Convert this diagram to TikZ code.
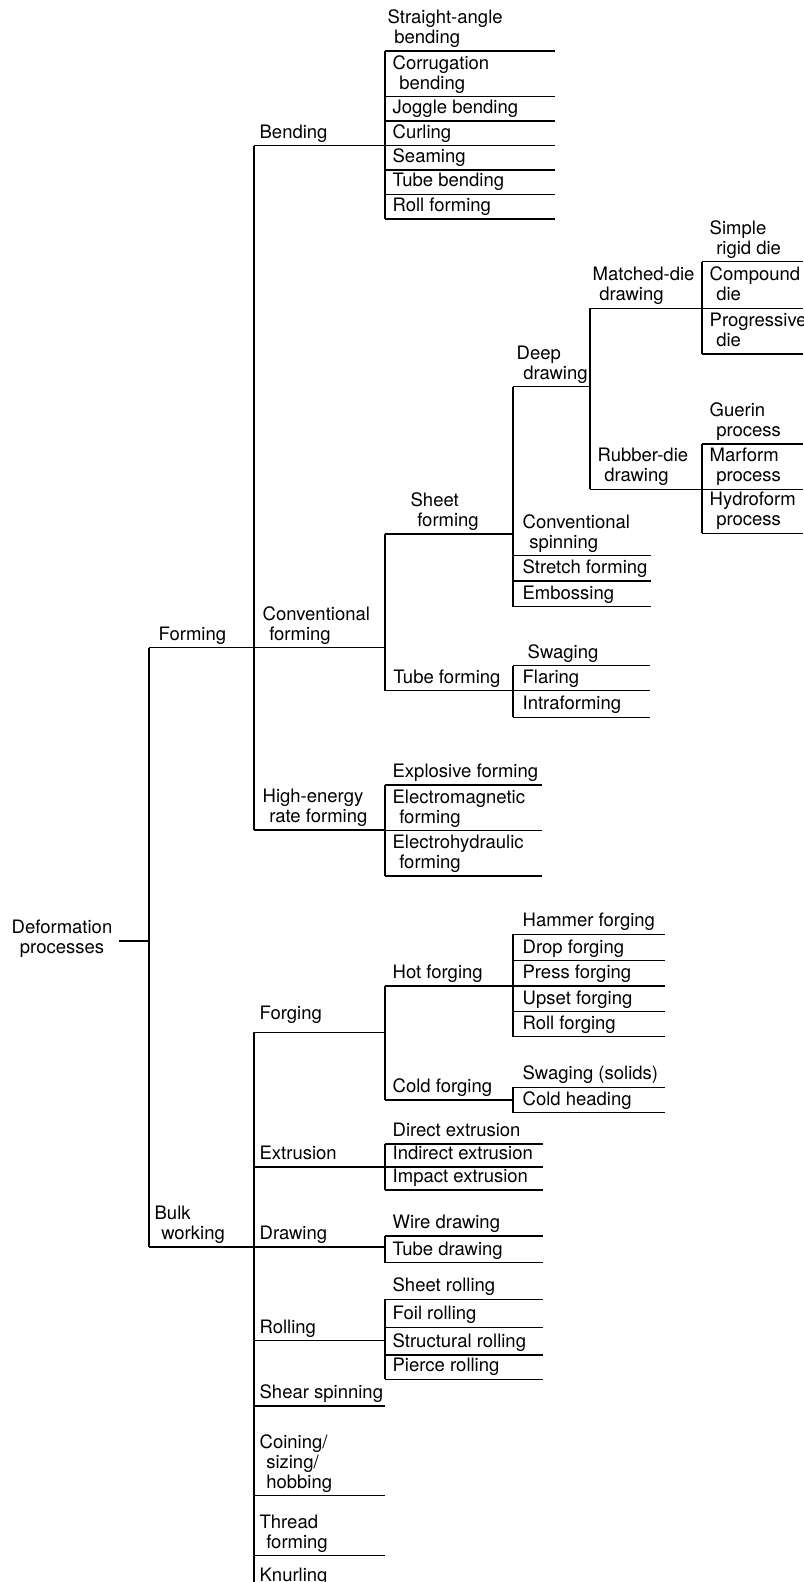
\documentclass[tikz,border=0pt]{standalone}
\usepackage{fontspec}
\setmainfont{TeX Gyre Heros}
\usepackage{tikz}
\usetikzlibrary{positioning}
\newcommand{\lblfont}{\fontsize{9.25pt}{10pt}\selectfont}
\newcommand{\ind}{\hspace*{3.3pt}}

\begin{document}
\begin{tikzpicture}[x=0.5pt, y=-0.5pt, line width=0.65pt,
    lbl/.style={anchor=base west, inner sep=0pt, align=left, font=\lblfont},
    rootlbl/.style={anchor=base, inner sep=0pt, align=center, font=\lblfont}]
  \useasboundingbox (0,0) rectangle (803,1582);

  % junctions of the tree
  \coordinate (a0) at (119,941);   \coordinate (a1) at (149,941);
  \coordinate (fo0) at (149,647.7); \coordinate (fo1) at (254,647.7);
  \coordinate (bw0) at (149,1247);  \coordinate (bw1) at (254,1247);
  \coordinate (be0) at (254,145.7); \coordinate (be1) at (385,145.7);
  \coordinate (cf1) at (385,647.7);
  \coordinate (he0) at (254,830);   \coordinate (he1) at (385,830);
  \coordinate (sf0) at (385,534);   \coordinate (sf1) at (513,534);
  \coordinate (tf0) at (385,690.7); \coordinate (tf1) at (513,690.7);
  \coordinate (dd0) at (513,386.7); \coordinate (dd1) at (590,386.7);
  \coordinate (sfend) at (513,606.7);
  \coordinate (md0) at (590,308.3); \coordinate (md1) at (702,308.3);
  \coordinate (rd0) at (590,489.3); \coordinate (rd1) at (702,489.3);
  \coordinate (fg0) at (254,1032.3); \coordinate (fg1) at (385,1032.3);
  \coordinate (hf0) at (385,986);   \coordinate (hf1) at (513,986);
  \coordinate (cg0) at (385,1100);  \coordinate (cg1) at (513,1100);
  \coordinate (ex0) at (254,1167);  \coordinate (ex1) at (385,1167);
  \coordinate (dr1) at (385,1247);
  \coordinate (ro0) at (254,1340.7); \coordinate (ro1) at (385,1340.7);
  \coordinate (ss0) at (254,1406);  \coordinate (ss1) at (385,1406);
  \coordinate (co0) at (254,1495.7); \coordinate (co1) at (385,1495.7);
  \coordinate (th0) at (254,1555.7); \coordinate (th1) at (385,1555.7);
  \coordinate (bwend) at (254,1582);

  % trunks and branches
  \draw (a0) -- (a1);
  \draw (fo0) -- (bw0);
  \draw (fo0) -- (fo1) -- (cf1);
  \draw (bw0) -- (bw1) -- (dr1);
  \draw (be0) -- (he0);
  \draw (be0) -- (be1);
  \draw (he0) -- (he1);
  \draw (sf0) -- (tf0);
  \draw (sf0) -- (sf1);
  \draw (tf0) -- (tf1);
  \draw (dd0) -- (sfend);
  \draw (dd0) -- (dd1);
  \draw (md0) -- (rd0);
  \draw (md0) -- (md1);
  \draw (rd0) -- (rd1);
  \draw (fg0) -- (bwend);
  \draw (fg0) -- (fg1);
  \draw (ex0) -- (ex1);
  \draw (ro0) -- (ro1);
  \draw (ss0) -- (ss1);
  \draw (co0) -- (co1);
  \draw (th0) -- (th1);
  \draw (hf0) -- (cg0);
  \draw (hf0) -- (hf1);
  \draw (cg0) -- (cg1);

  % leaf lists
  \draw (385,51) -- (385,219);
  \foreach \y in {51,96.7,121,145.7,170,194.3,219} \draw (385,\y) -- (555,\y);
  \draw (702,261.7) -- (702,354);
  \foreach \y in {261.7,308.3,354} \draw (702,\y) -- (803,\y);
  \draw (702,444) -- (702,533.3);
  \foreach \y in {444,489.3,533.3} \draw (702,\y) -- (803,\y);
  \foreach \y in {555.7,581,606.7} \draw (513,\y) -- (651,\y);
  \draw (513,665.7) -- (513,717.3);
  \foreach \y in {665.7,690.7,717.3} \draw (513,\y) -- (650,\y);
  \draw (385,785) -- (385,876);
  \foreach \y in {785,830.7,876} \draw (385,\y) -- (542,\y);
  \draw (513,934.3) -- (513,1036.7);
  \foreach \y in {934.3,960.7,986,1011.7,1036.7} \draw (513,\y) -- (665,\y);
  \draw (513,1087.3) -- (513,1112.7);
  \foreach \y in {1087.3,1112.7} \draw (513,\y) -- (665,\y);
  \draw (385,1144) -- (385,1190);
  \foreach \y in {1144,1167,1190} \draw (385,\y) -- (543,\y);
  \draw (385,1236) -- (385,1262.7);
  \foreach \y in {1236,1262.7} \draw (385,\y) -- (543,\y);
  \draw (385,1299.3) -- (385,1379.3);
  \foreach \y in {1299.3,1327.3,1355,1379.3} \draw (385,\y) -- (543,\y);

  % labels (y = baseline of the last line)
  \node[rootlbl] (deform) at (62,953) {Deformation\\processes};
  \node[lbl] (forming) at (158,640.2) {Forming};
  \node[lbl] (bulk) at (154,1239.5) {Bulk\\\ind working};

  \node[lbl] (bending) at (259,138.2) {Bending};
  \node[lbl] (convform) at (262,640.2) {Conventional\\\ind forming};
  \node[lbl] (highenergy) at (262,822.5) {High-energy\\\ind rate forming};

  \node[lbl] (straight) at (387,43.5) {Straight-angle\\\ind bending};
  \node[lbl] (corrug) at (392,89.2) {Corrugation\\\ind bending};
  \node[lbl] (joggle) at (392,113.5) {Joggle bending};
  \node[lbl] (curling) at (392,138.2) {Curling};
  \node[lbl] (seaming) at (392,162.5) {Seaming};
  \node[lbl] (tubebend) at (392,186.8) {Tube bending};
  \node[lbl] (rollform) at (392,211.5) {Roll forming};

  \node[lbl] (sheetform) at (410,526.5) {Sheet\\\ind forming};
  \node[lbl] (tubeform) at (392.7,683.2) {Tube forming};
  \node[lbl] (deepdraw) at (516,379.2) {Deep\\\ind drawing};
  \node[lbl] (matched) at (592,300.8) {Matched-die\\\ind drawing};
  \node[lbl] (rubber) at (597,481.8) {Rubber-die\\\ind drawing};

  \node[lbl] (simple) at (709,254.2) {Simple\\\ind rigid die};
  \node[lbl] (compound) at (709,300.8) {Compound\\\ind die};
  \node[lbl] (progressive) at (709,346.5) {Progressive\\\ind die};
  \node[lbl] (guerin) at (709,436.5) {Guerin\\\ind process};
  \node[lbl] (marform) at (709,481.8) {Marform\\\ind process};
  \node[lbl] (hydroform) at (709,525.8) {Hydroform\\\ind process};

  \node[lbl] (convspin) at (522,548.2) {Conventional\\\ind spinning};
  \node[lbl] (stretch) at (522,573.5) {Stretch forming};
  \node[lbl] (emboss) at (522,599.2) {Embossing};
  \node[lbl] (swaging) at (527,658.2) {Swaging};
  \node[lbl] (flaring) at (522,683.2) {Flaring};
  \node[lbl] (intra) at (522,709.8) {Intraforming};

  \node[lbl] (explosive) at (392,777.5) {Explosive forming};
  \node[lbl] (electromag) at (392,823.2) {Electromagnetic\\\ind forming};
  \node[lbl] (electrohyd) at (392,868.5) {Electrohydraulic\\\ind forming};

  \node[lbl] (forging) at (259,1019.3) {Forging};
  \node[lbl] (extrusion) at (259,1159.5) {Extrusion};
  \node[lbl] (drawing) at (259,1239.5) {Drawing};
  \node[lbl] (rolling) at (259,1333.2) {Rolling};
  \node[lbl] (shear) at (259,1398.5) {Shear spinning};
  \node[lbl] (coining) at (259,1488.2) {Coining/\\\ind sizing/\\\ind hobbing};
  \node[lbl] (thread) at (259,1548.2) {Thread\\\ind forming};
  \node[lbl] (knurling) at (259,1581) {Knurling};

  \node[lbl] (hotforg) at (392,978.5) {Hot forging};
  \node[lbl] (coldforg) at (392,1092.5) {Cold forging};
  \node[lbl] (hammer) at (522,926.8) {Hammer forging};
  \node[lbl] (drop) at (522,953.2) {Drop forging};
  \node[lbl] (press) at (522,978.5) {Press forging};
  \node[lbl] (upset) at (522,1004.2) {Upset forging};
  \node[lbl] (rollforg) at (522,1029.2) {Roll forging};
  \node[lbl] (swagsolid) at (522,1079.8) {Swaging (solids)};
  \node[lbl] (coldhead) at (522,1105.2) {Cold heading};

  \node[lbl] (direct) at (392,1136.5) {Direct extrusion};
  \node[lbl] (indirect) at (392,1159.5) {Indirect extrusion};
  \node[lbl] (impact) at (392,1182.5) {Impact extrusion};
  \node[lbl] (wire) at (392,1228.5) {Wire drawing};
  \node[lbl] (tubedraw) at (392,1255.2) {Tube drawing};
  \node[lbl] (sheetroll) at (392,1291.8) {Sheet rolling};
  \node[lbl] (foil) at (392,1319.8) {Foil rolling};
  \node[lbl] (structural) at (392,1347.5) {Structural rolling};
  \node[lbl] (pierce) at (392,1371.8) {Pierce rolling};
\end{tikzpicture}
\end{document}
